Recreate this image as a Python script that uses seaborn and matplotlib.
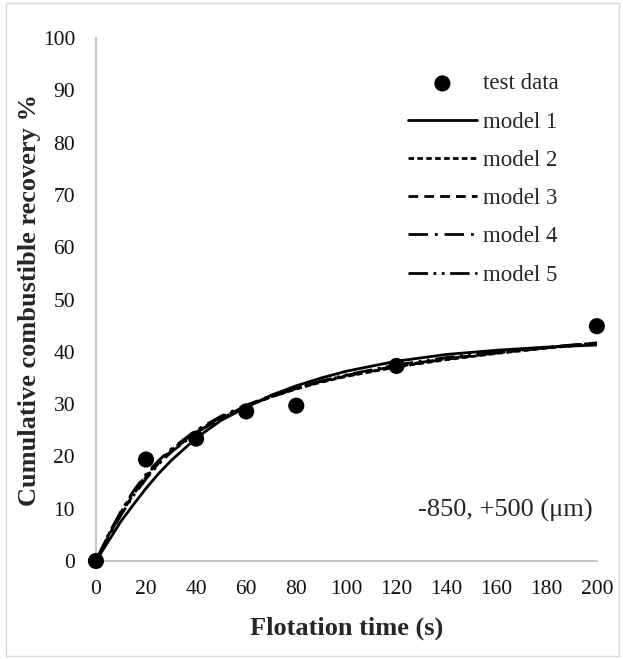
import numpy as np
import pandas as pd
import matplotlib
matplotlib.use("Agg")
import matplotlib.pyplot as plt
from matplotlib.patches import Rectangle
import seaborn as sns

# ── data ──────────────────────────────────────────────────
test_t = [0, 20, 40, 60, 80, 120, 200]
test_r = [0, 19.4, 23.4, 28.6, 29.7, 37.3, 44.9]

model_t = [0, 5, 10, 15, 20, 25, 30, 40, 50, 60, 70, 80, 90, 100, 120, 140, 160, 180, 200]
model1 = [0, 3.8, 7.6, 10.8, 13.9, 16.7, 19.2, 23.5, 26.9, 29.4, 31.7, 33.5, 35.0, 36.3, 38.2, 39.5, 40.3, 40.9, 41.3]
model2 = [0, 5.0, 9.3, 13.2, 16.3, 19.0, 21.2, 24.8, 27.5, 29.6, 31.4, 32.9, 34.2, 35.3, 37.1, 38.5, 39.7, 40.7, 41.6]
model3 = [0, 4.8, 9.0, 12.8, 16.0, 18.7, 21.0, 24.6, 27.4, 29.6, 31.4, 33.0, 34.3, 35.4, 37.2, 38.6, 39.8, 40.8, 41.7]
model4 = [0, 5.1, 9.5, 13.4, 16.6, 19.2, 21.4, 25.0, 27.7, 29.8, 31.6, 33.1, 34.4, 35.5, 37.3, 38.7, 39.8, 40.8, 41.6]
model5 = [0, 4.6, 8.8, 12.5, 15.7, 18.5, 20.8, 24.5, 27.3, 29.5, 31.4, 33.0, 34.4, 35.6, 37.5, 38.9, 40.0, 40.9, 41.7]

model_names = ["model 1", "model 2", "model 3", "model 4", "model 5"]
model_vals = [model1, model2, model3, model4, model5]
model_dashes = [None, (0, (2.0, 1.2)), (0, (3.5, 2.2)), (0, (7, 2.5, 1, 2.5)), (0, (7, 2, 1, 2, 1, 2))]

x_ticks = list(range(0, 201, 20))
y_ticks = list(range(0, 101, 10))

# ── style ─────────────────────────────────────────────────
sns.set_theme(style="white")
plt.rcParams['font.family'] = ['Liberation Serif', 'DejaVu Serif']

fig = plt.figure(figsize=(6.23, 6.59), dpi=100)
ax = fig.add_axes([0.154, 0.1487, 0.804, 0.7936])

# ── plot ──────────────────────────────────────────────────
for name, vals, ls in zip(model_names, model_vals, model_dashes):
    df = pd.DataFrame({"t": model_t, "r": vals})
    kw = {} if ls is None else {"linestyle": ls}
    sns.lineplot(data=df, x="t", y="r", ax=ax, color="black", linewidth=2.0,
                 label=name, **kw)

sns.scatterplot(x=test_t, y=test_r, ax=ax, color="black", s=135,
                edgecolor="none", label="test data", zorder=5, clip_on=False)

ax.set_xlim(0, 200)
ax.set_ylim(0, 100)
ax.set_xticks(x_ticks)
ax.set_yticks(y_ticks)
ax.tick_params(axis="both", length=0, labelsize=15.5, colors="#111111")
ax.tick_params(axis="x", pad=14)
ax.tick_params(axis="y", pad=15)

for s in ["top", "right"]:
    ax.spines[s].set_visible(False)
for s in ["left", "bottom"]:
    ax.spines[s].set_color("#c0c0c0")
    ax.spines[s].set_linewidth(1.3)

ax.set_xlabel("Flotation time (s)", fontsize=19, fontweight="bold", labelpad=12)
ax.set_ylabel("Cumulative combustible recovery %", fontsize=19, fontweight="bold", labelpad=1)

# legend: test data first
handles, labels = ax.get_legend_handles_labels()
order = [labels.index("test data")] + [labels.index(n) for n in model_names]
leg = ax.legend([handles[i] for i in order], [labels[i] for i in order],
                loc="upper right", bbox_to_anchor=(0.955, 0.963), frameon=False,
                fontsize=16.5, handlelength=3.0, handletextpad=0.25,
                labelspacing=0.75, borderpad=0.2)

ax.text(0.992, 0.0975, "-850, +500 (μm)", transform=ax.transAxes,
        ha="right", va="center", fontsize=19)

# chart area border
fig.patches.append(Rectangle((0.009, 0.004), 0.985, 0.992, transform=fig.transFigure,
                             fill=False, edgecolor="#d9d9d9", linewidth=1))

fig.savefig("out.png", dpi=100)
